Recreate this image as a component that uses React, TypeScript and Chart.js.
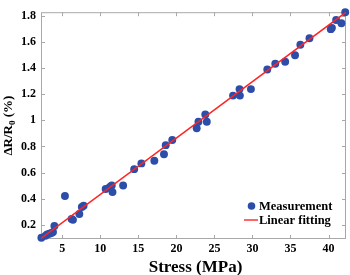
import { useEffect, useRef } from "react";
import { Chart, registerables } from "chart.js";

Chart.register(...registerables);

const xTicks = [5, 10, 15, 20, 25, 30, 35, 40];
const yTicks = [0.2, 0.4, 0.6, 0.8, 1.0, 1.2, 1.4, 1.6, 1.8];

const measX = [2.25, 2.78, 3.0, 3.3, 3.57, 3.78, 3.96, 5.35, 6.22, 6.4, 7.24, 7.57, 7.8, 10.7, 11.25, 11.5, 11.6, 13.0, 14.45, 15.4, 17.1, 18.37, 18.6, 19.46, 22.67, 22.9, 23.8, 24.0, 27.45, 28.3, 28.35, 29.8, 31.95, 33.0, 34.3, 35.6, 36.3, 37.5, 40.3, 40.45, 41.0, 41.7, 42.2];
const measY = [0.1, 0.114, 0.124, 0.13, 0.136, 0.143, 0.19, 0.42, 0.244, 0.237, 0.282, 0.335, 0.345, 0.474, 0.489, 0.5, 0.45, 0.5, 0.626, 0.67, 0.69, 0.74, 0.81, 0.85, 0.94, 0.99, 1.045, 0.99, 1.19, 1.24, 1.19, 1.24, 1.39, 1.435, 1.45, 1.5, 1.58, 1.63, 1.7, 1.71, 1.77, 1.745, 1.83];

const fitX = [2.2, 42.3];
const fitY = [0.095, 1.83];

const BLUE = "#2C4DA8";
const RED = "#FF2424";
const FRAME = "#A8A8A8";
const SERIF = "'Liberation Serif', 'Times New Roman', serif";

const decorPlugin = {
  id: "decor",
  beforeDatasetsDraw(chart: any) {
    const { ctx, chartArea: a, scales } = chart;
    ctx.save();
    ctx.strokeStyle = FRAME;
    ctx.lineWidth = 1;
    ctx.strokeRect(a.left + 0.5, a.top + 0.5, a.right - a.left - 1, a.bottom - a.top - 1);
    const tl = 4;
    ctx.beginPath();
    xTicks.forEach((v) => {
      const px = Math.round(scales.x.getPixelForValue(v)) + 0.5;
      ctx.moveTo(px, a.bottom);
      ctx.lineTo(px, a.bottom - tl);
      ctx.moveTo(px, a.top);
      ctx.lineTo(px, a.top + tl);
    });
    yTicks.forEach((v) => {
      const py = Math.round(scales.y.getPixelForValue(v)) + 0.5;
      ctx.moveTo(a.left, py);
      ctx.lineTo(a.left + tl, py);
      ctx.moveTo(a.right, py);
      ctx.lineTo(a.right - tl, py);
    });
    ctx.stroke();
    ctx.restore();
  },
  afterDraw(chart: any) {
    const { ctx, chartArea: a } = chart;
    ctx.save();
    ctx.fillStyle = "#000";
    // x title
    ctx.font = `bold 17px ${SERIF}`;
    ctx.textAlign = "center";
    ctx.textBaseline = "middle";
    ctx.fillText("Stress (MPa)", (a.left + a.right) / 2 + 2, 268);
    // y title with subscript
    ctx.save();
    ctx.translate(11.5, (a.top + a.bottom) / 2);
    ctx.rotate(-Math.PI / 2);
    ctx.textBaseline = "alphabetic";
    ctx.textAlign = "left";
    const mainFont = `bold 13px ${SERIF}`;
    const subFont = `bold 9px ${SERIF}`;
    ctx.font = mainFont;
    const w1 = ctx.measureText("ΔR/R").width;
    const w3 = ctx.measureText(" (%)").width;
    ctx.font = subFont;
    const w2 = ctx.measureText("0").width;
    const total = w1 + w2 + w3;
    let x = -total / 2;
    ctx.font = mainFont;
    ctx.fillText("ΔR/R", x, 0);
    x += w1;
    ctx.font = subFont;
    ctx.fillText("0", x, 3);
    x += w2;
    ctx.font = mainFont;
    ctx.fillText(" (%)", x, 0);
    ctx.restore();
    // legend
    ctx.fillStyle = BLUE;
    ctx.beginPath();
    ctx.arc(251.5, 206, 3.8, 0, Math.PI * 2);
    ctx.fill();
    ctx.strokeStyle = RED;
    ctx.lineWidth = 1.4;
    ctx.beginPath();
    ctx.moveTo(244, 220);
    ctx.lineTo(258, 220);
    ctx.stroke();
    ctx.fillStyle = "#000";
    ctx.font = `bold 12.5px ${SERIF}`;
    ctx.textAlign = "left";
    ctx.textBaseline = "middle";
    ctx.fillText("Measurement", 259, 206.5);
    ctx.fillText("Linear fitting", 259, 221);
    ctx.restore();
  },
};

export default function App() {
  const ref = useRef<HTMLCanvasElement | null>(null);

  useEffect(() => {
    if (!ref.current) return;
    const chart = new Chart(ref.current, {
      type: "scatter",
      data: {
        datasets: [
          {
            label: "Linear fitting",
            data: fitX.map((x, i) => ({ x, y: fitY[i] })),
            showLine: true,
            borderColor: RED,
            borderWidth: 1.5,
            pointRadius: 0,
            order: 0,
          },
          {
            label: "Measurement",
            data: measX.map((x, i) => ({ x, y: measY[i] })),
            backgroundColor: BLUE,
            borderColor: BLUE,
            borderWidth: 0,
            pointRadius: 3.95,
            clip: false as any,
            order: 1,
          },
        ],
      },
      options: {
        responsive: false,
        animation: false,
        layout: { padding: { top: 2, right: 1, left: 0, bottom: 0 } },
        plugins: { legend: { display: false }, tooltip: { enabled: false } },
        scales: {
          x: {
            type: "linear",
            min: 2.2,
            max: 42.3,
            grid: { display: false, drawTicks: false },
            border: { display: false },
            afterBuildTicks(scale: any) {
              scale.ticks = xTicks.map((v) => ({ value: v }));
            },
            afterFit(scale: any) {
              scale.height = 36;
            },
            ticks: {
              padding: 3,
              color: "#000",
              font: { family: SERIF, size: 12, weight: "bold" },
              maxRotation: 0,
              callback: (v: any) => String(v),
            },
          },
          y: {
            type: "linear",
            min: 0.09,
            max: 1.83,
            grid: { display: false, drawTicks: false },
            border: { display: false },
            afterBuildTicks(scale: any) {
              scale.ticks = yTicks.map((v) => ({ value: v }));
            },
            afterFit(scale: any) {
              scale.width = 41;
            },
            ticks: {
              padding: 5,
              color: "#000",
              font: { family: SERIF, size: 12, weight: "bold" },
              callback: (v: any) => String(Number(Number(v).toFixed(1))),
            },
          },
        },
      },
      plugins: [decorPlugin],
    });
    return () => chart.destroy();
  }, []);

  return (
    <div style={{ position: "fixed", left: 0, top: 0, width: 350, height: 275, background: "#fff" }}>
      <canvas ref={ref} width={350} height={275} style={{ display: "block" }} />
    </div>
  );
}
